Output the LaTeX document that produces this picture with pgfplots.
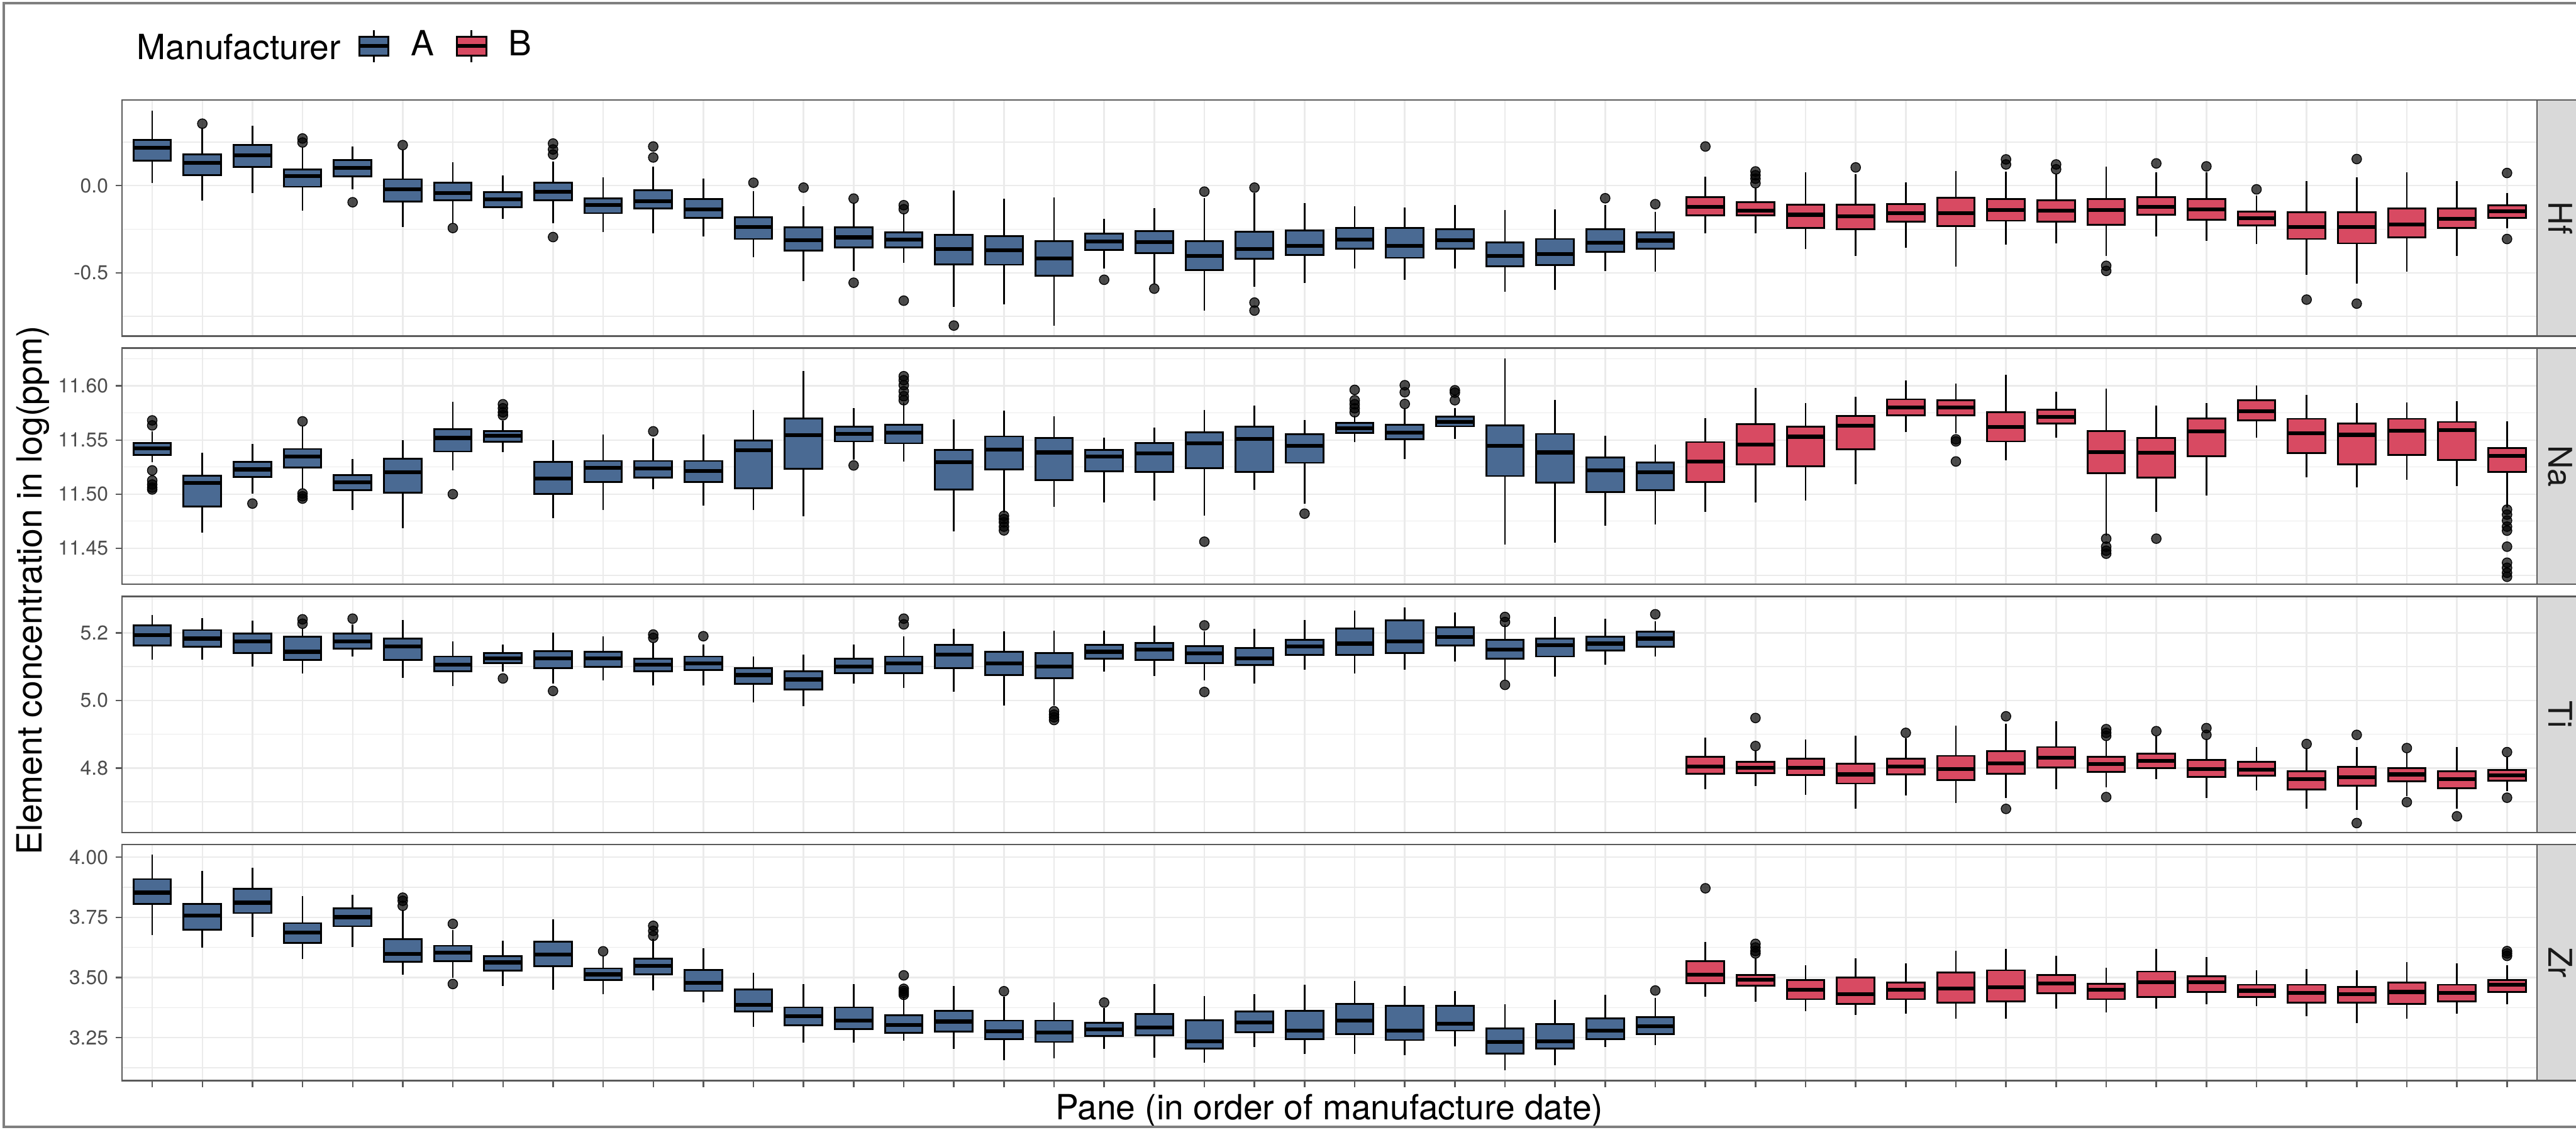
\documentclass[border=0pt]{standalone}
\usepackage{fontspec}
\setmainfont{TeX Gyre Heros}
\usepackage{pgfplots}
\pgfplotsset{compat=1.18}
\usepackage{pgfplotstable}
\usepgfplotslibrary{statistics}

\definecolor{boxA}{HTML}{4A6A93}
\definecolor{boxB}{HTML}{D84A62}
\definecolor{gridgray}{HTML}{EBEBEB}
\definecolor{framegray}{HTML}{5A5A5A}
\definecolor{ticktext}{HTML}{4D4D4D}
\definecolor{stripfill}{HTML}{D9D9D9}
\definecolor{striptext}{HTML}{1A1A1A}
\definecolor{outergray}{HTML}{7F7F7F}

\newcommand\titlefont{\fontsize{16.5}{19.8}\selectfont}
\newcommand\tickfont{\fontsize{9.5}{11.4}\selectfont}
\newcommand\stripfont{\fontsize{15.5}{18.6}\selectfont}

% Box statistics per pane: lower whisker, quartiles, median, upper whisker
\pgfplotstableread{
pos lw q1 med q3 uw
1 0.014 0.145 0.217 0.263 0.430
2 -0.087 0.062 0.130 0.179 0.333
3 -0.043 0.108 0.174 0.233 0.345
4 -0.144 -0.006 0.054 0.094 0.219
5 -0.021 0.054 0.103 0.148 0.225
6 -0.237 -0.091 -0.021 0.037 0.202
7 -0.215 -0.083 -0.043 0.017 0.134
8 -0.192 -0.123 -0.078 -0.038 0.059
9 -0.215 -0.083 -0.034 0.017 0.139
10 -0.266 -0.158 -0.110 -0.074 0.048
11 -0.272 -0.131 -0.089 -0.026 0.111
12 -0.292 -0.186 -0.135 -0.075 0.042
13 -0.411 -0.306 -0.237 -0.180 -0.032
14 -0.546 -0.372 -0.312 -0.240 -0.118
15 -0.489 -0.354 -0.297 -0.240 -0.100
16 -0.443 -0.354 -0.308 -0.269 -0.158
17 -0.694 -0.452 -0.363 -0.281 -0.026
18 -0.680 -0.454 -0.372 -0.289 -0.075
19 -0.803 -0.517 -0.418 -0.317 -0.066
20 -0.477 -0.369 -0.320 -0.274 -0.192
21 -0.563 -0.388 -0.323 -0.260 -0.129
22 -0.717 -0.483 -0.403 -0.317 -0.072
23 -0.580 -0.420 -0.363 -0.264 -0.043
24 -0.557 -0.397 -0.346 -0.258 -0.100
25 -0.477 -0.363 -0.308 -0.243 -0.118
26 -0.540 -0.414 -0.346 -0.243 -0.126
27 -0.477 -0.363 -0.312 -0.251 -0.110
28 -0.608 -0.464 -0.403 -0.326 -0.141
29 -0.597 -0.457 -0.392 -0.306 -0.135
30 -0.489 -0.380 -0.326 -0.251 -0.112
31 -0.494 -0.363 -0.315 -0.269 -0.152
32 -0.272 -0.169 -0.123 -0.066 0.050
33 -0.272 -0.169 -0.144 -0.095 -0.009
34 -0.365 -0.243 -0.167 -0.110 0.076
35 -0.403 -0.251 -0.175 -0.110 0.065
36 -0.357 -0.205 -0.158 -0.104 0.019
37 -0.463 -0.232 -0.158 -0.068 0.084
38 -0.338 -0.201 -0.140 -0.075 0.082
39 -0.331 -0.205 -0.144 -0.083 0.065
40 -0.403 -0.226 -0.140 -0.075 0.111
41 -0.292 -0.167 -0.121 -0.066 0.076
42 -0.315 -0.197 -0.137 -0.075 0.076
43 -0.334 -0.228 -0.186 -0.148 -0.055
44 -0.511 -0.306 -0.237 -0.152 0.025
45 -0.563 -0.331 -0.237 -0.152 0.048
46 -0.494 -0.297 -0.224 -0.132 0.076
47 -0.403 -0.243 -0.189 -0.132 0.027
48 -0.243 -0.186 -0.146 -0.112 -0.043
}\hfstats

\pgfplotstableread{
pos val
2 0.356
4 0.271
4 0.248
5 -0.095
6 0.233
7 -0.243
9 0.242
9 0.208
9 0.179
9 -0.295
11 0.225
11 0.162
13 0.017
14 -0.011
15 -0.074
15 -0.557
16 -0.112
16 -0.135
16 -0.660
17 -0.803
20 -0.540
21 -0.591
22 -0.034
23 -0.011
23 -0.671
23 -0.717
30 -0.072
31 -0.106
32 0.225
33 0.082
33 0.060
33 0.040
33 0.014
35 0.105
38 0.151
38 0.122
39 0.122
39 0.094
40 -0.460
40 -0.489
41 0.128
42 0.111
43 -0.021
44 -0.654
45 0.153
45 -0.677
48 0.073
48 -0.306
}\hfout

\pgfplotstableread{
pos lw q1 med q3 uw
1 11.5293 11.5363 11.5422 11.5474 11.5580
2 11.4644 11.4885 11.5104 11.5172 11.5385
3 11.5006 11.5159 11.5228 11.5296 11.5463
4 11.5052 11.5246 11.5348 11.5417 11.5626
5 11.4852 11.5037 11.5107 11.5178 11.5326
6 11.4685 11.5011 11.5200 11.5326 11.5500
7 11.5219 11.5394 11.5519 11.5598 11.5852
8 11.5389 11.5483 11.5537 11.5585 11.5681
9 11.4778 11.5000 11.5144 11.5296 11.5500
10 11.4852 11.5111 11.5241 11.5307 11.5552
11 11.5043 11.5154 11.5237 11.5307 11.5515
12 11.4894 11.5111 11.5215 11.5307 11.5552
13 11.4852 11.5056 11.5407 11.5496 11.5778
14 11.4793 11.5233 11.5543 11.5700 11.6135
15 11.5320 11.5487 11.5556 11.5622 11.5793
16 11.5302 11.5469 11.5567 11.5641 11.5848
17 11.4654 11.5043 11.5293 11.5407 11.5691
18 11.4830 11.5228 11.5413 11.5533 11.5774
19 11.4881 11.5130 11.5385 11.5519 11.5719
20 11.4926 11.5209 11.5348 11.5407 11.5524
21 11.4941 11.5204 11.5376 11.5474 11.5617
22 11.4802 11.5241 11.5469 11.5570 11.5778
23 11.5037 11.5204 11.5511 11.5622 11.5820
24 11.4913 11.5289 11.5444 11.5552 11.5685
25 11.5481 11.5567 11.5611 11.5659 11.5722
26 11.5326 11.5506 11.5567 11.5641 11.5793
27 11.5511 11.5626 11.5667 11.5715 11.5793
28 11.4537 11.5167 11.5444 11.5635 11.6252
29 11.4552 11.5104 11.5385 11.5556 11.5870
30 11.4709 11.5019 11.5219 11.5339 11.5537
31 11.4722 11.5037 11.5204 11.5293 11.5456
32 11.4839 11.5111 11.5302 11.5481 11.5704
33 11.4926 11.5274 11.5456 11.5644 11.5981
34 11.4941 11.5259 11.5530 11.5622 11.5839
35 11.5093 11.5413 11.5630 11.5722 11.5900
36 11.5574 11.5728 11.5802 11.5876 11.6052
37 11.5561 11.5728 11.5802 11.5867 11.6019
38 11.5315 11.5487 11.5622 11.5759 11.6104
39 11.5524 11.5654 11.5715 11.5778 11.5944
40 11.4617 11.5191 11.5389 11.5585 11.5974
41 11.4839 11.5154 11.5381 11.5519 11.5815
42 11.4987 11.5352 11.5580 11.5700 11.5839
43 11.5519 11.5681 11.5765 11.5867 11.6006
44 11.5154 11.5381 11.5561 11.5696 11.5919
45 11.5061 11.5274 11.5548 11.5654 11.5839
46 11.5135 11.5363 11.5585 11.5696 11.5844
47 11.5074 11.5315 11.5593 11.5667 11.5857
48 11.4876 11.5204 11.5352 11.5426 11.5672
}\nastats

\pgfplotstableread{
pos val
1 11.5681
1 11.5635
1 11.5219
1 11.5126
1 11.5089
1 11.5060
1 11.5043
3 11.4913
4 11.5672
4 11.5006
4 11.4980
4 11.4959
7 11.5000
8 11.5830
8 11.5793
8 11.5756
8 11.5728
11 11.5580
15 11.5265
16 11.6089
16 11.6052
16 11.6006
16 11.5950
16 11.5904
16 11.5867
18 11.4800
18 11.4770
18 11.4740
18 11.4700
18 11.4665
22 11.4561
24 11.4820
25 11.5963
25 11.5867
25 11.5830
25 11.5793
25 11.5756
26 11.6006
26 11.5941
26 11.5833
27 11.5959
27 11.5937
27 11.5867
37 11.5506
37 11.5487
37 11.5302
40 11.4589
40 11.4515
40 11.4478
40 11.4450
41 11.4589
48 11.4857
48 11.4811
48 11.4756
48 11.4700
48 11.4663
48 11.4515
48 11.4367
48 11.4320
48 11.4274
48 11.4237
}\naout

\pgfplotstableread{
pos lw q1 med q3 uw
1 5.120 5.163 5.193 5.222 5.252
2 5.120 5.159 5.183 5.208 5.243
3 5.100 5.140 5.174 5.198 5.236
4 5.080 5.120 5.144 5.188 5.213
5 5.130 5.154 5.174 5.198 5.225
6 5.067 5.120 5.159 5.183 5.237
7 5.042 5.086 5.106 5.130 5.174
8 5.085 5.110 5.125 5.140 5.165
9 5.050 5.095 5.125 5.146 5.200
10 5.060 5.100 5.125 5.144 5.190
11 5.045 5.086 5.106 5.124 5.170
12 5.045 5.090 5.110 5.130 5.165
13 4.994 5.049 5.075 5.095 5.130
14 4.983 5.032 5.062 5.086 5.135
15 5.050 5.080 5.100 5.124 5.165
16 5.036 5.080 5.110 5.130 5.190
17 5.025 5.095 5.135 5.165 5.212
18 4.984 5.075 5.110 5.144 5.205
19 4.984 5.065 5.100 5.140 5.207
20 5.086 5.124 5.144 5.165 5.207
21 5.072 5.120 5.150 5.170 5.222
22 5.060 5.110 5.140 5.160 5.205
23 5.050 5.105 5.125 5.155 5.212
24 5.090 5.135 5.160 5.180 5.237
25 5.080 5.135 5.168 5.212 5.266
26 5.090 5.140 5.174 5.237 5.276
27 5.115 5.163 5.188 5.217 5.260
28 5.060 5.124 5.150 5.180 5.225
29 5.070 5.130 5.163 5.183 5.247
30 5.105 5.148 5.168 5.188 5.242
31 5.130 5.159 5.183 5.203 5.235
32 4.738 4.783 4.805 4.833 4.890
33 4.747 4.785 4.801 4.818 4.850
34 4.720 4.779 4.801 4.828 4.884
35 4.680 4.754 4.781 4.813 4.896
36 4.718 4.781 4.805 4.827 4.888
37 4.696 4.765 4.797 4.836 4.925
38 4.712 4.783 4.813 4.850 4.930
39 4.738 4.801 4.830 4.862 4.939
40 4.742 4.788 4.812 4.833 4.883
41 4.767 4.799 4.821 4.843 4.895
42 4.712 4.773 4.797 4.824 4.886
43 4.734 4.778 4.795 4.819 4.862
44 4.680 4.736 4.767 4.791 4.859
45 4.676 4.748 4.773 4.803 4.862
46 4.717 4.760 4.781 4.799 4.846
47 4.680 4.740 4.767 4.791 4.862
48 4.732 4.763 4.779 4.794 4.834
}\tistats

\pgfplotstableread{
pos val
4 5.240
4 5.227
5 5.242
8 5.065
9 5.028
11 5.195
11 5.185
12 5.190
16 5.242
16 5.225
19 4.968
19 4.958
19 4.950
19 4.942
22 5.222
22 5.025
28 5.247
28 5.232
28 5.046
31 5.255
33 4.948
33 4.865
36 4.904
38 4.953
38 4.679
40 4.915
40 4.904
40 4.895
40 4.714
41 4.909
42 4.918
42 4.898
44 4.871
45 4.898
45 4.637
46 4.859
46 4.699
47 4.657
48 4.847
48 4.712
}\tiout

\pgfplotstableread{
pos lw q1 med q3 uw
1 3.676 3.807 3.853 3.909 4.011
2 3.623 3.698 3.757 3.807 3.944
3 3.669 3.768 3.811 3.869 3.957
4 3.576 3.644 3.686 3.726 3.838
5 3.626 3.713 3.751 3.788 3.844
6 3.513 3.565 3.598 3.659 3.782
7 3.498 3.569 3.604 3.632 3.698
8 3.465 3.529 3.563 3.590 3.654
9 3.448 3.548 3.596 3.648 3.743
10 3.432 3.490 3.513 3.538 3.590
11 3.446 3.513 3.548 3.579 3.661
12 3.398 3.444 3.478 3.532 3.621
13 3.294 3.359 3.386 3.451 3.519
14 3.229 3.301 3.340 3.376 3.473
15 3.229 3.286 3.321 3.376 3.473
16 3.238 3.271 3.303 3.343 3.419
17 3.204 3.276 3.317 3.362 3.464
18 3.157 3.244 3.276 3.321 3.419
19 3.163 3.232 3.271 3.321 3.396
20 3.204 3.257 3.284 3.311 3.373
21 3.168 3.259 3.293 3.348 3.473
22 3.146 3.204 3.234 3.323 3.423
23 3.211 3.273 3.313 3.359 3.432
24 3.182 3.244 3.279 3.361 3.471
25 3.182 3.265 3.321 3.390 3.486
26 3.178 3.240 3.279 3.382 3.465
27 3.215 3.279 3.307 3.382 3.444
28 3.115 3.184 3.232 3.288 3.388
29 3.136 3.204 3.234 3.307 3.407
30 3.211 3.244 3.279 3.329 3.429
31 3.219 3.265 3.298 3.336 3.415
32 3.419 3.476 3.511 3.569 3.648
33 3.400 3.465 3.490 3.510 3.580
34 3.360 3.410 3.450 3.490 3.550
35 3.345 3.390 3.430 3.500 3.580
36 3.350 3.410 3.450 3.480 3.560
37 3.330 3.395 3.455 3.520 3.610
38 3.330 3.400 3.460 3.530 3.620
39 3.370 3.435 3.475 3.510 3.590
40 3.355 3.410 3.450 3.475 3.540
41 3.370 3.420 3.480 3.525 3.620
42 3.390 3.440 3.480 3.505 3.585
43 3.380 3.420 3.445 3.470 3.530
44 3.340 3.395 3.435 3.470 3.535
45 3.310 3.395 3.430 3.460 3.530
46 3.330 3.390 3.440 3.480 3.565
47 3.350 3.400 3.435 3.470 3.560
48 3.390 3.440 3.470 3.490 3.550
}\zrstats

\pgfplotstableread{
pos val
6 3.832
6 3.819
6 3.798
7 3.723
7 3.473
10 3.609
11 3.715
11 3.694
11 3.673
16 3.509
16 3.453
16 3.444
16 3.436
16 3.428
18 3.443
20 3.396
31 3.446
32 3.871
33 3.640
33 3.625
33 3.610
33 3.600
48 3.610
48 3.600
48 3.590
}\zrout

\pgfplotsset{
  panel/.style={
    anchor=north west, scale only axis,
    width=403.3mm, height=39.45mm,
    xmin=0.4, xmax=48.6,
    xtick={1,...,48}, xticklabels={},
    tick align=outside, major tick length=1.1mm, minor tick length=0pt,
    xtick pos=left, ytick pos=left,
    axis line style={draw=framegray, line width=0.25mm},
    tick style={draw=framegray, line width=0.25mm},
    xmajorgrids, ymajorgrids, yminorgrids,
    major grid style={draw=gridgray, line width=0.25mm},
    minor grid style={draw=gridgray, line width=0.13mm},
    yticklabel style={font=\tickfont, text=ticktext},
  },
  panebox/.style={forget plot, draw=black, line width=0.3mm, fill=#1,
    boxplot/draw direction=y, boxplot/box extend=0.75, boxplot/whisker extend=0,
    boxplot/every median/.style={line width=0.65mm}},
  outlier/.style={forget plot, only marks, mark=*, mark size=0.8mm,
    mark options={draw=none, fill=black, fill opacity=0.7}},
}

% one box per pane, read row by row from a statistics table
\newcommand\boxesfrom[1]{%
  \pgfplotsforeachungrouped \bi in {0,...,47}{%
    \pgfplotstablegetelem{\bi}{pos}\of{#1}\let\bpos\pgfplotsretval
    \pgfplotstablegetelem{\bi}{lw}\of{#1}\let\blw\pgfplotsretval
    \pgfplotstablegetelem{\bi}{q1}\of{#1}\let\bqa\pgfplotsretval
    \pgfplotstablegetelem{\bi}{med}\of{#1}\let\bmd\pgfplotsretval
    \pgfplotstablegetelem{\bi}{q3}\of{#1}\let\bqc\pgfplotsretval
    \pgfplotstablegetelem{\bi}{uw}\of{#1}\let\buw\pgfplotsretval
    \ifnum\bpos<32 \def\bfill{boxA}\else\def\bfill{boxB}\fi
    \edef\doplot{\noexpand\addplot[panebox=\bfill, boxplot prepared={draw position=\bpos, lower whisker=\blw, lower quartile=\bqa, median=\bmd, upper quartile=\bqc, upper whisker=\buw}] coordinates {};}%
    \doplot
  }%
}

\begin{document}
\begin{tikzpicture}
\useasboundingbox (0,0) rectangle (430.2mm,-188.7mm);

% ---- Hf ----
\begin{axis}[panel, at={(20.4mm,-16.7mm)},
  ymin=-0.864, ymax=0.492,
  ytick={-0.5,0}, yticklabels={-0.5,0.0},
  minor ytick={-0.75,-0.25,0.25},
  xtick style={draw=none},
  legend image code/.code={
    \draw[black, line width=0.3mm] (2.45mm,-2.87mm) -- (2.45mm,2.43mm);
    \draw[#1, line width=0.3mm] (0mm,-1.82mm) rectangle (4.9mm,1.38mm);
    \draw[black, line width=0.65mm] (0mm,-0.22mm) -- (4.9mm,-0.22mm);
  },
  legend style={at={(axis description cs:0.09733,1.22814)}, anchor=west,
    draw=none, fill=none, inner sep=0pt, outer sep=0pt,
    legend columns=-1, font=\titlefont,
    nodes={inner sep=0pt},
    /tikz/every odd column/.append style={column sep=3.4mm},
    /tikz/every even column/.append style={column sep=3.5mm}},
]
  \boxesfrom{\hfstats}
  \addplot[outlier] table[x=pos,y=val] {\hfout};
  \addlegendimage{fill=boxA, draw=black}
  \addlegendentry{A}
  \addlegendimage{fill=boxB, draw=black}
  \addlegendentry{B}
\end{axis}

% ---- Na ----
\begin{axis}[panel, at={(20.4mm,-58.15mm)},
  ymin=11.4167, ymax=11.6348,
  ytick={11.45,11.50,11.55,11.60}, yticklabels={11.45,11.50,11.55,11.60},
  minor ytick={11.425,11.475,11.525,11.575,11.625},
  xtick style={draw=none},
]
  \boxesfrom{\nastats}
  \addplot[outlier] table[x=pos,y=val] {\naout};
\end{axis}

% ---- Ti ----
\begin{axis}[panel, at={(20.4mm,-99.6mm)},
  ymin=4.609, ymax=5.308,
  ytick={4.8,5.0,5.2}, yticklabels={4.8,5.0,5.2},
  minor ytick={4.7,4.9,5.1,5.3},
  xtick style={draw=none},
]
  \boxesfrom{\tistats}
  \addplot[outlier] table[x=pos,y=val] {\tiout};
\end{axis}

% ---- Zr ----
\begin{axis}[panel, at={(20.4mm,-141.05mm)},
  ymin=3.071, ymax=4.053,
  ytick={3.25,3.50,3.75,4.00}, yticklabels={3.25,3.50,3.75,4.00},
  minor ytick={3.125,3.375,3.625,3.875},
]
  \boxesfrom{\zrstats}
  \addplot[outlier] table[x=pos,y=val] {\zrout};
\end{axis}

% facet strips
\foreach \top/\bot/\lab in {16.7/56.15/Hf, 58.15/97.6/Na, 99.6/139.05/Ti, 141.05/180.5/Zr}{
  \draw[fill=stripfill, draw=framegray, line width=0.25mm] (423.7mm,-\top mm) rectangle (432mm,-\bot mm);
  \node[rotate=-90, anchor=base, font=\stripfont, text=striptext, inner sep=0pt]
    at (425.6mm,{-(\top+\bot)/2*1mm}) {\lab};
}

% titles and legend heading
\node[anchor=base, font=\titlefont, inner sep=0pt] at (222.0mm,-187.0mm) {Pane (in order of manufacture date)};
\node[rotate=90, anchor=base, font=\titlefont, inner sep=0pt] at (7.0mm,-98.6mm) {Element concentration in log(ppm)};
\node[anchor=base west, font=\titlefont, inner sep=0pt] at (22.8mm,-9.9mm) {Manufacturer};

% plot border
\draw[draw=outergray, line width=0.4mm] (0.6mm,-0.5mm) rectangle (440mm,-188.2mm);
\end{tikzpicture}
\end{document}
